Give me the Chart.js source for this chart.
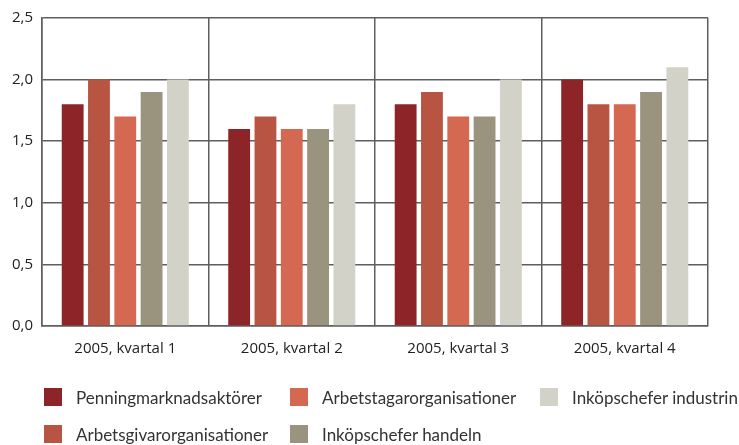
<!DOCTYPE html>
<html><head><meta charset="utf-8">
<script src="https://cdn.jsdelivr.net/npm/chart.js@4/dist/chart.umd.min.js"></script>
<style>
html,body{margin:0;padding:0;background:#fff;}
#wrap{position:relative;width:739px;height:445px;}
#cbox{position:absolute;left:0;top:0;width:739px;height:380px;}
#legend{position:absolute;left:0;top:0;width:739px;height:445px;pointer-events:none;}
.li{position:absolute;display:flex;align-items:center;height:24px;font-family:Lato,"Open Sans",sans-serif;font-size:17px;color:#333;white-space:nowrap;}
.sw{width:18px;height:18px;margin-right:14px;flex:none;}
</style></head><body>
<div id="wrap"><div id="cbox"><canvas id="c"></canvas></div><div id="legend"></div></div>
<script>
const categories = ["2005, kvartal 1","2005, kvartal 2","2005, kvartal 3","2005, kvartal 4"];
const seriesNames = ["Penningmarknadsaktörer","Arbetsgivarorganisationer","Arbetstagarorganisationer","Inköpschefer handeln","Inköpschefer industrin"];
const penning = [1.8, 1.6, 1.8, 2.0];
const arbetsgivar = [2.0, 1.7, 1.9, 1.8];
const arbetstagar = [1.7, 1.6, 1.7, 1.8];
const inkopHandeln = [1.9, 1.6, 1.7, 1.9];
const inkopIndustrin = [2.0, 1.8, 2.0, 2.1];
const yTicks = [0, 0.5, 1.0, 1.5, 2.0, 2.5];
const colors = ["#8C2428","#B85442","#D56850","#9A937D","#D2D2C9"];
const values = [penning, arbetsgivar, arbetstagar, inkopHandeln, inkopIndustrin];

const datasets = seriesNames.map((n,i)=>({label:n,data:values[i],backgroundColor:colors[i],borderWidth:0,categoryPercentage:0.79,barPercentage:0.83}));

const gridCol = "#5e5e5e";
new Chart(document.getElementById('c'),{
  type:'bar',
  data:{labels:categories,datasets},
  options:{
    responsive:true,maintainAspectRatio:false,animation:false,
    layout:{padding:{left:3,right:31,top:7,bottom:8}},
    plugins:{legend:{display:false},tooltip:{enabled:false}},
    scales:{
      x:{grid:{color:gridCol,lineWidth:1.5,drawTicks:false,offset:true},border:{color:gridCol,width:1.5},
         ticks:{color:'#222',font:{family:'Open Sans',size:15},padding:14}},
      y:{min:0,max:2.5,afterBuildTicks:(s)=>{s.ticks=yTicks.map(v=>({value:v}));},
         grid:{color:gridCol,lineWidth:1.5,drawTicks:false},border:{color:gridCol,width:1.5},
         ticks:{color:'#222',font:{family:'Open Sans',size:15},padding:9,callback:(v)=>v.toFixed(1).replace('.',',')}}
    }
  }
});

const pos = [[44,397],[44,434],[290,397],[290,434],[540,397]];
const lg = document.getElementById('legend');
seriesNames.forEach((n,i)=>{
  const d=document.createElement('div');d.className='li';
  d.style.left=pos[i][0]+'px';d.style.top=(pos[i][1]-12)+'px';
  d.innerHTML='<span class="sw" style="background:'+colors[i]+'"></span><span>'+n+'</span>';
  lg.appendChild(d);
});
</script>
</body></html>
